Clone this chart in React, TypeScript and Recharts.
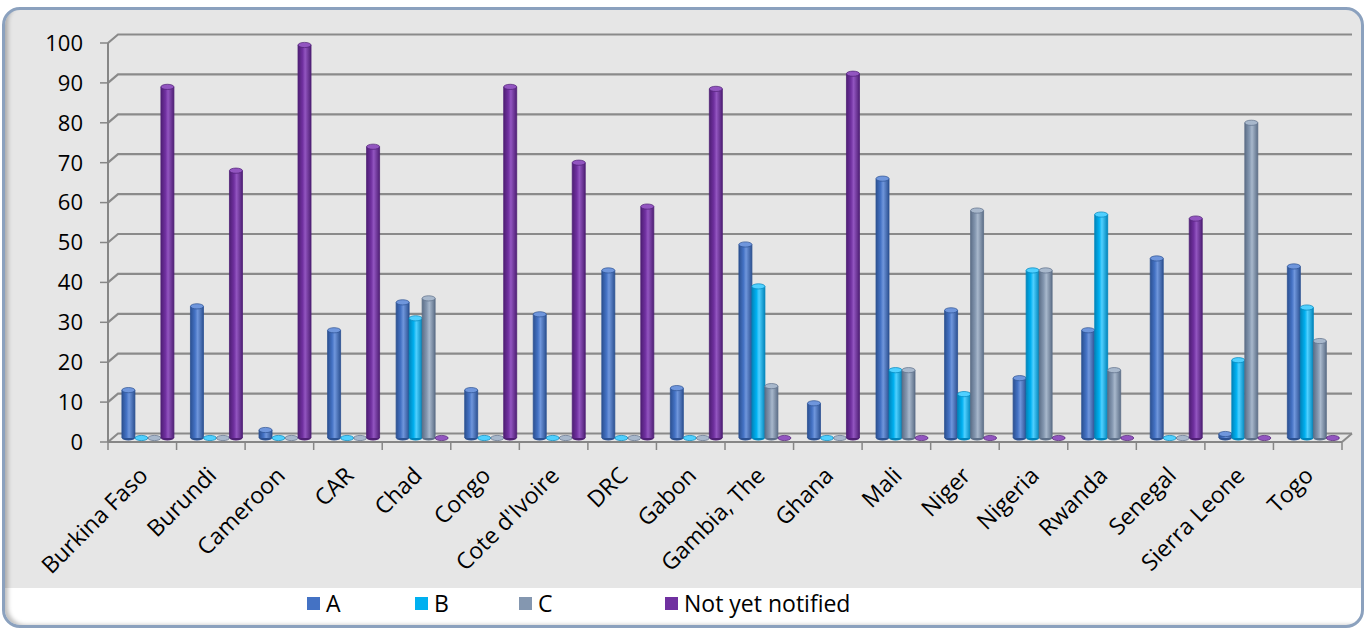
import { BarChart, Bar, XAxis, YAxis, CartesianGrid } from 'recharts';

const countries = [
  'Burkina Faso', 'Burundi', 'Cameroon', 'CAR', 'Chad', 'Congo', "Cote d'Ivoire", 'DRC', 'Gabon',
  'Gambia, The', 'Ghana', 'Mali', 'Niger', 'Nigeria', 'Rwanda', 'Senegal', 'Sierra Leone', 'Togo',
];
const seriesA = [12, 33, 2, 27, 34, 12, 31, 42, 12.5, 48.5, 8.7, 65, 32, 15, 27, 45, 1, 43];
const seriesB = [0, 0, 0, 0, 30, 0, 0, 0, 0, 38, 0, 17, 11, 42, 56, 0, 19.5, 32.7];
const seriesC = [0, 0, 0, 0, 35, 0, 0, 0, 0, 13, 0, 17, 57, 42, 17, 0, 79, 24.3];
const notYetNotified = [88, 67, 98.5, 73, 0, 88, 69, 58, 87.5, 0, 91.3, 0, 0, 0, 0, 55, 0, 0];
const seriesNames = ['A', 'B', 'C', 'Not yet notified'];
const yTicks = [0, 10, 20, 30, 40, 50, 60, 70, 80, 90, 100];

const data = countries.map((country, i) => ({
  country,
  a: seriesA[i],
  b: seriesB[i],
  c: seriesC[i],
  n: notYetNotified[i],
}));

// colours: base, dark edge, light top
const palette = [
  { key: 'a', base: '#4472c4', dark: '#2c5192', light: '#6f96dc' },
  { key: 'b', base: '#00b0f0', dark: '#0085bb', light: '#4fd0ff' },
  { key: 'c', base: '#8497b0', dark: '#5d6f88', light: '#a8b8cc' },
  { key: 'n', base: '#7030a0', dark: '#4f1f75', light: '#9255c0' },
];

const CHART_W = 1365;
const CHART_H = 634;
const Y_AXIS_W = 108;
const MARGIN_RIGHT = 23;
const BAND = (CHART_W - Y_AXIS_W - MARGIN_RIGHT) / countries.length;
// depth offsets for the fake 3D look
const BACK_DX = 10;
const BACK_DY = -8.5;
const MID_DX = 5;
const MID_DY = -4;

const FONT = '"Open Sans", sans-serif';

const Cylinder = (props: any) => {
  const { x, y, width, height, colors } = props;
  const h = Math.max(height || 0, 0);
  const rx = width / 2;
  const ry = 2.6;
  const cx = x + rx;
  return (
    <g transform={`translate(${MID_DX},${MID_DY})`}>
      {h > 0 && (
        <>
          <ellipse cx={cx} cy={y + h} rx={rx} ry={ry} fill={colors.dark} />
          <rect x={x} y={y} width={width} height={h} fill={`url(#grad-${colors.key})`} />
          <line x1={x} y1={y} x2={x} y2={y + h} stroke={colors.dark} strokeWidth={0.8} />
          <line x1={x + width} y1={y} x2={x + width} y2={y + h} stroke={colors.dark} strokeWidth={0.8} />
        </>
      )}
      <ellipse cx={cx} cy={y} rx={rx} ry={ry} fill={colors.light} stroke={colors.dark} strokeWidth={0.7} />
    </g>
  );
};

const CountryTick = (props: any) => {
  const { x, y, payload, index } = props;
  const half = BAND / 2;
  const tx = x + 7;
  const ty = y + 35;
  return (
    <g>
      <line x1={x - half} y1={y} x2={x - half} y2={y + 8} stroke="#868686" strokeWidth={1.5} />
      {index === countries.length - 1 && (
        <>
          <line x1={x + half} y1={y} x2={x + half} y2={y + 8} stroke="#868686" strokeWidth={1.5} />
          <line x1={x + half} y1={y} x2={x + half + BACK_DX} y2={y + BACK_DY} stroke="#8a8a8a" strokeWidth={2} />
        </>
      )}
      <text
        x={tx}
        y={ty}
        transform={`rotate(-45, ${tx}, ${ty})`}
        textAnchor="end"
        fontSize={23}
        fontFamily={FONT}
        fill="#000"
      >
        {payload.value}
      </text>
    </g>
  );
};

const BackGridLine = (props: any) => {
  const { x1, y1, x2 } = props;
  return (
    <polyline
      points={`${x1},${y1} ${x1 + BACK_DX},${y1 + BACK_DY} ${x2 + BACK_DX},${y1 + BACK_DY}`}
      fill="none"
      stroke="#8a8a8a"
      strokeWidth={2.2}
    />
  );
};

export default function App() {
  return (
    <div style={{ position: 'absolute', left: 0, top: 0, width: CHART_W, height: CHART_H, background: '#fff', overflow: 'hidden' }}>
      <div
        style={{
          position: 'absolute',
          left: 2,
          top: 7,
          width: 1362,
          height: 621,
          boxSizing: 'border-box',
          border: '3px solid #8ba1be',
          borderRadius: 18,
          background: 'linear-gradient(#e6e6e6 0px, #e6e6e6 578px, #ffffff 578px)',
          boxShadow: 'inset 6px -3px 4px -3px rgba(0,0,0,0.25)',
        }}
      />
      <div style={{ position: 'absolute', left: 0, top: 0 }}>
        <BarChart
          width={CHART_W}
          height={CHART_H}
          data={data}
          margin={{ top: 43, right: MARGIN_RIGHT, left: 0, bottom: 42 }}
          barCategoryGap="13%"
          barGap={0}
        >
          <defs>
            {palette.map((p) => (
              <linearGradient key={p.key} id={`grad-${p.key}`} x1="0" y1="0" x2="1" y2="0">
                <stop offset="0%" stopColor={p.dark} />
                <stop offset="35%" stopColor={p.base} />
                <stop offset="55%" stopColor={p.light} />
                <stop offset="100%" stopColor={p.dark} />
              </linearGradient>
            ))}
          </defs>
          <CartesianGrid vertical={false} horizontal={<BackGridLine />} />
          <XAxis
            dataKey="country"
            interval={0}
            height={150}
            tickLine={false}
            tickSize={0}
            tickMargin={0}
            axisLine={{ stroke: '#868686', strokeWidth: 2 }}
            tick={<CountryTick />}
          />
          <YAxis
            domain={[0, 100]}
            ticks={yTicks}
            width={Y_AXIS_W}
            tickSize={8}
            tickMargin={17}
            interval={0}
            axisLine={{ stroke: '#868686', strokeWidth: 2 }}
            tickLine={{ stroke: '#868686', strokeWidth: 1.5 }}
            tick={{ fontSize: 22, fontFamily: FONT, fill: '#000' }}
          />
          {palette.map((p, i) => (
            <Bar
              key={p.key}
              dataKey={p.key}
              name={seriesNames[i]}
              fill={p.base}
              isAnimationActive={false}
              shape={(sp: any) => <Cylinder {...sp} colors={p} />}
            />
          ))}
        </BarChart>
      </div>
      <div
        style={{
          position: 'absolute',
          left: 307,
          top: 587,
          display: 'flex',
          alignItems: 'center',
          fontFamily: FONT,
          fontSize: 23,
          color: '#000',
        }}
      >
        {seriesNames.map((name, i) => (
          <div key={name} style={{ display: 'flex', alignItems: 'center', width: [108, 104, 146, 220][i] }}>
            <span style={{ display: 'inline-block', width: 13, height: 13, background: palette[i].base, marginRight: 6 }} />
            <span>{name}</span>
          </div>
        ))}
      </div>
    </div>
  );
}
